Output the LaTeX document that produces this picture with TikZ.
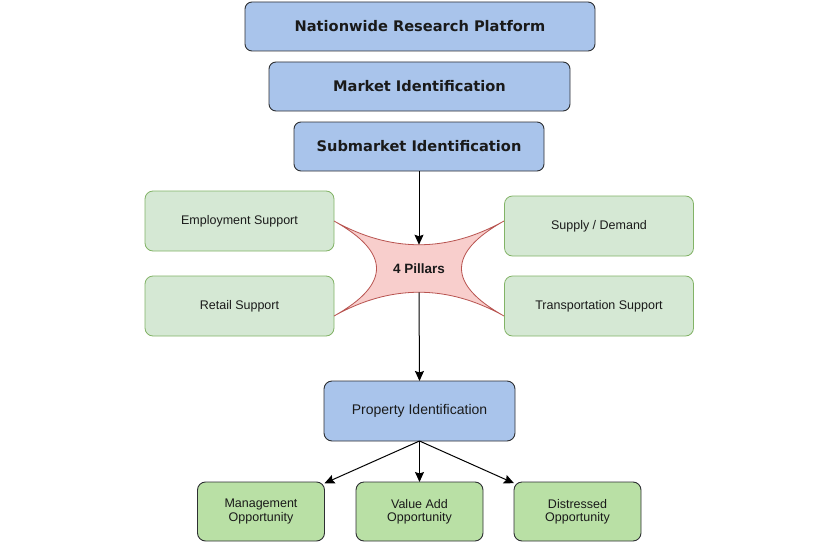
\documentclass[tikz,border=0pt]{standalone}
\usepackage{fontspec}
\setmainfont{Liberation Sans}
\newfontfamily\titlefont{DejaVu Sans}
\usetikzlibrary{arrows.meta,calc}
\definecolor{blueF}{HTML}{A9C4EB}
\definecolor{greenF}{HTML}{D5E8D4}
\definecolor{greenS}{HTML}{82B366}
\definecolor{greenTwoF}{HTML}{B9E0A5}
\definecolor{redF}{HTML}{F8CECC}
\definecolor{redS}{HTML}{B85450}
\definecolor{darkS}{HTML}{2E3033}
\definecolor{txt}{HTML}{1A1A1A}
\begin{document}
\begin{tikzpicture}[x=1pt,y=-1pt,
  titlebox/.style={draw=darkS, fill=blueF, rounded corners=7pt, line width=0.9pt,
    inner sep=0pt, outer sep=0pt, minimum height=49pt, text=txt,
    font=\titlefont\bfseries\fontsize{14.6}{17}\selectfont},
  pillarbox/.style={draw=greenS, fill=greenF, rounded corners=8pt, line width=0.8pt,
    inner sep=0pt, outer sep=0pt, minimum width=189pt, minimum height=60pt, text=txt,
    font=\fontsize{12.5}{14}\selectfont},
  propbox/.style={draw=darkS, fill=blueF, rounded corners=8pt, line width=0.9pt,
    inner sep=0pt, outer sep=0pt, minimum width=191pt, minimum height=60pt, text=txt,
    font=\fontsize{14}{16}\selectfont},
  oppbox/.style={draw=darkS, fill=greenTwoF, rounded corners=8pt, line width=0.9pt,
    inner sep=0pt, outer sep=0pt, minimum width=127pt, minimum height=59pt, text=txt,
    align=center, font=\fontsize{12.5}{13.4}\selectfont},
  arrow/.style={draw=black, line width=1pt, -{Stealth[length=10pt,width=9pt,inset=1.5pt]}}
]
\useasboundingbox (0,0) rectangle (840,543);
\fill[white] (0,0) rectangle (840,543);

% title boxes
\node[titlebox, minimum width=350pt] (nat) at (420,26.5) {Nationwide Research Platform};
\node[titlebox, minimum width=301pt] (mkt) at (419.5,86.5) {Market Identification};
\node[titlebox, minimum width=250pt] (sub) at (419,146.5) {Submarket Identification};

% pillar boxes
\node[pillarbox] (emp) at (239.5,221) {Employment Support};
\node[pillarbox] (sup) at (599,226) {Supply / Demand};
\node[pillarbox] (ret) at (239.5,306) {Retail Support};
\node[pillarbox] (tra) at (599,306) {Transportation Support};

% 4 pillars shape
\coordinate (c) at (419,268.5);
\coordinate (tl) at (334,221);
\coordinate (tr) at (504,221);
\coordinate (br) at (504,316);
\coordinate (bl) at (334,316);
\filldraw[fill=redF, draw=redS, line width=0.8pt]
  (tl) .. controls ($(tl)!2/3!(c)$) and ($(tr)!2/3!(c)$) .. (tr)
       .. controls ($(tr)!2/3!(c)$) and ($(br)!2/3!(c)$) .. (br)
       .. controls ($(br)!2/3!(c)$) and ($(bl)!2/3!(c)$) .. (bl)
       .. controls ($(bl)!2/3!(c)$) and ($(tl)!2/3!(c)$) .. cycle;
\node[text=txt, font=\bfseries\fontsize{13.5}{16}\selectfont] (pillars) at (c) {4 Pillars};
\coordinate (ptop) at (419,244.75);
\coordinate (pbot) at (419,292.25);

% property and opportunities
\node[propbox] (prop) at (419.5,411) {Property Identification};
\node[oppbox] (mgmt) at (261,511.5) {Management\\Opportunity};
\node[oppbox] (val) at (419.5,511.5) {Value Add\\Opportunity};
\node[oppbox] (dis) at (577.5,511.5) {Distressed\\Opportunity};

% connectors
\draw[arrow] (sub.south) -- (ptop);
\draw[arrow] (pbot) -- (prop.north);
\draw[arrow] (prop.south) -- (mgmt);
\draw[arrow] (prop.south) -- (val.north);
\draw[arrow] (prop.south) -- (dis);
\end{tikzpicture}
\end{document}
